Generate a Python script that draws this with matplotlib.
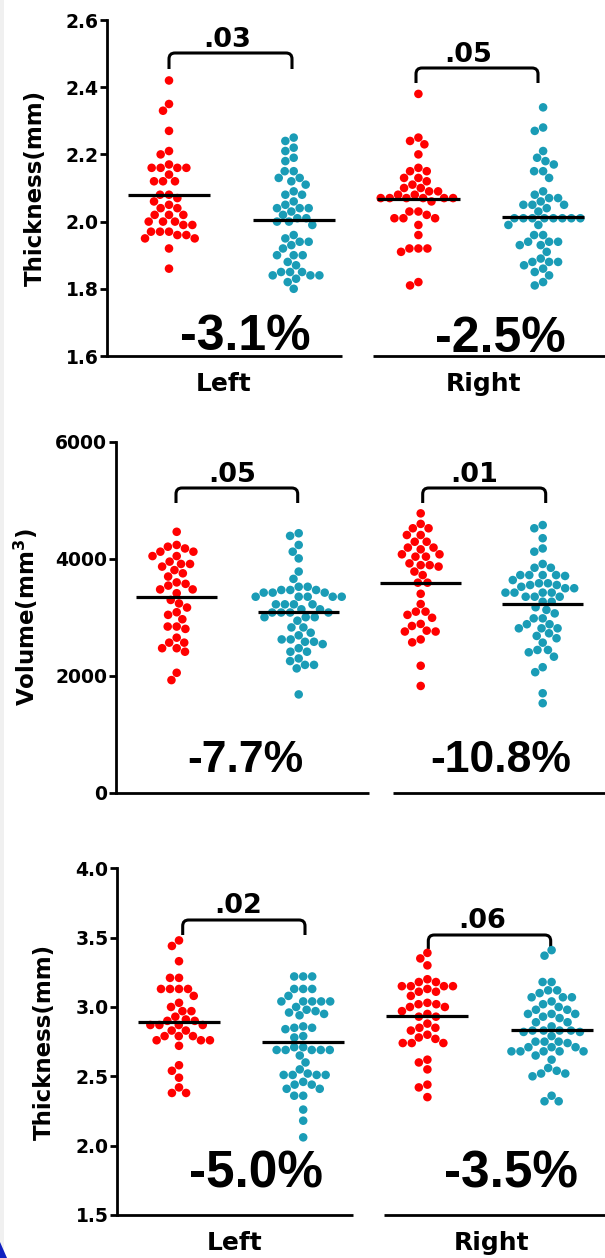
"""Dot plots of left / right thickness and volume with group means"""

import matplotlib
matplotlib.use("Agg")
import matplotlib.pyplot as plt
from matplotlib.path import Path
from matplotlib.patches import PathPatch, Polygon, Rectangle
import numpy as np

FIG_W, FIG_H, DPI = 605, 1258, 100
RED = "#FF0000"
TEAL = "#1A9CB6"
BIG_FONT = ["Liberation Sans", "DejaVu Sans"]

# ---- panel 1 : thickness (mm) ----
p1_red_left = [2.42, 2.35, 2.33, 2.27, 2.21, 2.20, 2.17, 2.16, 2.16, 2.16, 2.16, 2.14,
               2.12, 2.12, 2.12, 2.08, 2.08, 2.07, 2.06, 2.05, 2.04, 2.04, 2.02, 2.02,
               2.02, 2.00, 2.00, 2.00, 1.99, 1.99, 1.97, 1.97, 1.97, 1.96, 1.96, 1.95,
               1.95, 1.92, 1.86]
p1_teal_left = [2.25, 2.24, 2.22, 2.21, 2.19, 2.18, 2.15, 2.15, 2.13, 2.13, 2.12, 2.11,
                2.09, 2.08, 2.08, 2.06, 2.05, 2.04, 2.04, 2.04, 2.03, 2.02, 2.01, 2.01,
                2.00, 2.00, 1.99, 1.96, 1.95, 1.94, 1.94, 1.93, 1.92, 1.90, 1.90, 1.90,
                1.88, 1.87, 1.85, 1.85, 1.85, 1.84, 1.84, 1.84, 1.83, 1.82, 1.80]
p1_red_right = [2.38, 2.25, 2.24, 2.23, 2.20, 2.16, 2.15, 2.15, 2.13, 2.13, 2.12, 2.11,
                2.10, 2.10, 2.09, 2.09, 2.08, 2.08, 2.07, 2.07, 2.07, 2.07, 2.07, 2.07,
                2.06, 2.03, 2.03, 2.02, 2.01, 2.01, 2.01, 1.99, 1.96, 1.92, 1.92, 1.92,
                1.91, 1.82, 1.81]
p1_teal_right = [2.34, 2.28, 2.27, 2.21, 2.19, 2.18, 2.17, 2.15, 2.15, 2.13, 2.09, 2.08,
                 2.07, 2.07, 2.06, 2.05, 2.05, 2.05, 2.04, 2.03, 2.01, 2.01, 2.01, 2.01,
                 2.01, 2.01, 2.01, 2.01, 1.99, 1.99, 1.96, 1.96, 1.94, 1.94, 1.94, 1.93,
                 1.93, 1.91, 1.89, 1.88, 1.88, 1.88, 1.87, 1.86, 1.85, 1.84, 1.82, 1.81]
p1_means = [2.078, 2.005, 2.067, 2.015]
p1_pvalues = [".03", ".05"]
p1_changes = ["-3.1%", "-2.5%"]

# ---- panel 2 : volume (mm3) ----
p2_red_left = [4460, 4235, 4205, 4175, 4120, 4120, 4045, 4045, 3950, 3910, 3910, 3865,
               3805, 3750, 3695, 3595, 3570, 3540, 3475, 3475, 3410, 3295, 3235, 3165,
               3085, 3040, 2965, 2840, 2840, 2800, 2650, 2565, 2565, 2470, 2470, 2410,
               2050, 1925]
p2_teal_left = [4435, 4390, 4235, 4120, 4005, 3780, 3655, 3520, 3520, 3465, 3465, 3465,
                3420, 3420, 3420, 3350, 3350, 3350, 3350, 3350, 3220, 3220, 3220, 3220,
                3135, 3135, 3080, 3080, 3080, 3080, 3000, 3000, 3000, 2940, 2825, 2825,
                2735, 2690, 2620, 2620, 2580, 2580, 2540, 2470, 2410, 2410, 2295, 2250,
                2185, 2185, 2125, 1680]
p2_red_right = [4775, 4595, 4520, 4520, 4405, 4405, 4290, 4290, 4190, 4190, 4160, 4075,
                4075, 4035, 4035, 3920, 3890, 3890, 3865, 3780, 3720, 3590, 3590, 3400,
                3225, 3095, 3095, 3040, 2990, 2885, 2850, 2770, 2755, 2755, 2620, 2570,
                2170, 1825]
p2_teal_right = [4575, 4520, 4350, 4175, 4120, 3910, 3845, 3845, 3720, 3720, 3720, 3720,
                 3705, 3635, 3580, 3580, 3550, 3550, 3520, 3495, 3495, 3420, 3420, 3420,
                 3420, 3350, 3350, 3350, 3265, 3265, 3170, 3125, 3065, 2980, 2980, 2880,
                 2880, 2810, 2810, 2810, 2725, 2680, 2640, 2565, 2440, 2440, 2400, 2325,
                 2145, 2060, 1700, 1530]
p2_means = [3345, 3095, 3590, 3220]
p2_pvalues = [".05", ".01"]
p2_changes = ["-7.7%", "-10.8%"]

# ---- panel 3 : thickness (mm) ----
p3_red_left = [3.48, 3.44, 3.33, 3.21, 3.21, 3.13, 3.13, 3.13, 3.13, 3.08, 3.03, 3.00,
               2.97, 2.97, 2.93, 2.91, 2.90, 2.90, 2.87, 2.87, 2.87, 2.87, 2.83, 2.83,
               2.79, 2.79, 2.79, 2.76, 2.76, 2.76, 2.72, 2.58, 2.54, 2.49, 2.42, 2.38,
               2.38]
p3_teal_left = [3.22, 3.22, 3.22, 3.13, 3.13, 3.13, 3.08, 3.04, 3.04, 3.04, 3.04, 3.04,
                3.00, 2.98, 2.97, 2.96, 2.95, 2.94, 2.86, 2.85, 2.85, 2.84, 2.79, 2.78,
                2.71, 2.71, 2.69, 2.69, 2.69, 2.69, 2.69, 2.65, 2.60, 2.55, 2.52, 2.51,
                2.51, 2.51, 2.51, 2.46, 2.44, 2.44, 2.41, 2.41, 2.36, 2.36, 2.26, 2.18,
                2.06]
p3_red_right = [3.39, 3.35, 3.30, 3.20, 3.18, 3.18, 3.15, 3.15, 3.15, 3.15, 3.13, 3.11,
                3.11, 3.08, 3.03, 3.02, 3.02, 3.00, 3.00, 2.97, 2.95, 2.93, 2.93, 2.88,
                2.85, 2.85, 2.83, 2.80, 2.78, 2.77, 2.74, 2.74, 2.74, 2.62, 2.60, 2.55,
                2.44, 2.42, 2.35]
p3_teal_right = [3.41, 3.37, 3.18, 3.18, 3.12, 3.12, 3.10, 3.07, 3.07, 3.07, 3.04, 3.02,
                 3.00, 2.98, 2.98, 2.95, 2.95, 2.95, 2.93, 2.92, 2.89, 2.89, 2.86, 2.83,
                 2.83, 2.83, 2.83, 2.82, 2.82, 2.79, 2.75, 2.75, 2.75, 2.74, 2.71, 2.71,
                 2.71, 2.68, 2.68, 2.68, 2.68, 2.68, 2.65, 2.62, 2.56, 2.54, 2.52, 2.52,
                 2.50, 2.36, 2.32, 2.32]
p3_means = [2.889, 2.750, 2.935, 2.832]
p3_pvalues = [".02", ".06"]
p3_changes = ["-5.0%", "-3.5%"]

side_labels = ["Left", "Right"]

# layout of each panel, in pixels of the final picture
PANELS = [
    dict(groups=[p1_red_left, p1_teal_left, p1_red_right, p1_teal_right],
         means=p1_means, pvalues=p1_pvalues, changes=p1_changes,
         left=107, top=20, bottom=356, c0=169, step=124.7,
         ylim=(1.6, 2.6), yticks=[1.6, 1.8, 2.0, 2.2, 2.4, 2.6], fmt="{:.1f}",
         ylabel="Thickness(mm)", ylabel_x=35,
         segments=[(107, 342), (373, 605)],
         brackets=[(169, 292, 53, 69), (416, 538, 68, 83)],
         ptext=[(227, 47), (468, 62)],
         ctext=[(245, 350), (500, 352)], csize=36,
         xlabels=[224, 484]),
    dict(groups=[p2_red_left, p2_teal_left, p2_red_right, p2_teal_right],
         means=p2_means, pvalues=p2_pvalues, changes=p2_changes,
         left=115.7, top=441.7, bottom=792.7, c0=176.7, step=122.0,
         ylim=(0, 6000), yticks=[0, 2000, 4000, 6000], fmt="{:.0f}",
         ylabel=r"Volume(mm$^{\mathbf{3}}$)", ylabel_x=26,
         segments=[(115.7, 369), (393, 605)],
         brackets=[(176, 297.7, 488, 503), (422.7, 545.7, 488, 503)],
         ptext=[(232, 481.7), (474, 481.7)],
         ctext=[(245, 771.7), (501, 771.7)], csize=32,
         xlabels=None),
    dict(groups=[p3_red_left, p3_teal_left, p3_red_right, p3_teal_right],
         means=p3_means, pvalues=p3_pvalues, changes=p3_changes,
         left=117, top=868.3, bottom=1215, c0=179, step=124.2,
         ylim=(1.5, 4.0), yticks=[1.5, 2.0, 2.5, 3.0, 3.5, 4.0], fmt="{:.1f}",
         ylabel="Thickness(mm)", ylabel_x=44,
         segments=[(117, 353), (384, 605)],
         brackets=[(182.7, 305, 920, 935), (428.3, 550.7, 935, 949)],
         ptext=[(238, 913), (482, 928)],
         ctext=[(256, 1188), (511, 1188)], csize=37,
         xlabels=[235, 492]),
]


def swarm_offsets(values, px_x, px_y, diam=9.0):
    """
    Beeswarm layout: horizontal offsets (data units) so that dots do not overlap

    @param values: the y values of one group
    @param px_x: pixels per x data unit
    @param px_y: pixels per y data unit
    @param diam: minimum distance between dot centres, pixels
    """
    values = np.asarray(values, dtype=float)
    placed = []
    offsets = np.zeros(len(values))
    for i in np.argsort(-values, kind="stable"):
        y = values[i] * px_y
        cands = [0.0]
        for xj, yj in placed:
            dy = abs(y - yj)
            if dy < diam:
                dx = np.sqrt(diam ** 2 - dy ** 2)
                cands += [xj - dx, xj + dx]
        cands.sort(key=lambda c: (round(abs(c), 3), c))
        chosen = 0.0
        for c in cands:
            if all((c - xj) ** 2 + (y - yj) ** 2 >= diam ** 2 - 1e-6
                   for xj, yj in placed):
                chosen = c
                break
        placed.append((chosen, y))
        offsets[i] = chosen / px_x
    return offsets


def draw_panel(fig, cfg):
    """
    Draw one panel of the figure from its config dict
    """
    width_px = FIG_W - cfg["left"]
    height_px = cfg["bottom"] - cfg["top"]
    ax = fig.add_axes([cfg["left"] / FIG_W, (FIG_H - cfg["bottom"]) / FIG_H,
                       width_px / FIG_W, height_px / FIG_H])
    c0, step = cfg["c0"], cfg["step"]
    y0, y1 = cfg["ylim"]
    px_y = height_px / (y1 - y0)

    def xd(px):
        return (px - c0) / step

    def yd(py):
        return y1 - (py - cfg["top"]) / px_y

    ax.set_xlim(xd(cfg["left"]), xd(FIG_W))
    ax.set_ylim(y0, y1)

    # dots and mean lines
    for pos, (vals, mean) in enumerate(zip(cfg["groups"], cfg["means"])):
        color = RED if pos % 2 == 0 else TEAL
        offs = swarm_offsets(vals, step, px_y)
        ax.scatter(pos + offs, vals, s=38, color=color, edgecolors="none",
                   zorder=3, clip_on=False)
        ax.plot([pos - 0.33, pos + 0.33], [mean, mean], color="black",
                lw=2.3, solid_capstyle="butt", zorder=4)

    # axes: left spine and a broken x axis
    for side in ("top", "right", "bottom"):
        ax.spines[side].set_visible(False)
    ax.spines["left"].set_linewidth(2.0)
    ax.set_xticks([])
    ax.set_yticks(cfg["yticks"])
    ax.set_yticklabels([cfg["fmt"].format(t) for t in cfg["yticks"]])
    ax.tick_params(axis="y", length=5, width=2, pad=1, labelsize=13.5)
    for lab in ax.get_yticklabels():
        lab.set_fontweight("bold")
    for xa, xb in cfg["segments"]:
        ax.plot([xd(xa), xd(xb)], [0, 0], color="black", lw=2.0,
                transform=ax.get_xaxis_transform(), clip_on=False,
                solid_capstyle="butt")

    ax.set_ylabel(cfg["ylabel"], fontsize=16.5, fontweight="bold", va="center")
    ax.yaxis.set_label_coords((cfg["ylabel_x"] - cfg["left"]) / width_px, 0.5)

    # brackets with p values
    r = 6.0
    rx, ry = r / step, r / px_y
    for (xa, xb, yt, yb), ptxt, (tx, ty) in zip(cfg["brackets"], cfg["pvalues"],
                                                cfg["ptext"]):
        x1, x2, top, bot = xd(xa), xd(xb), yd(yt), yd(yb)
        verts = [(x1, bot), (x1, top - ry), (x1, top), (x1 + rx, top),
                 (x2 - rx, top), (x2, top), (x2, top - ry), (x2, bot)]
        codes = [Path.MOVETO, Path.LINETO, Path.CURVE3, Path.CURVE3,
                 Path.LINETO, Path.CURVE3, Path.CURVE3, Path.LINETO]
        ax.add_patch(PathPatch(Path(verts, codes), facecolor="none",
                               edgecolor="black", lw=2.2, clip_on=False))
        ax.text(xd(tx), yd(ty), ptxt, ha="center", va="baseline",
                fontsize=19.5, fontweight="bold")

    # percent change
    for (tx, ty), txt in zip(cfg["ctext"], cfg["changes"]):
        ax.text(xd(tx), yd(ty), txt, ha="center", va="baseline",
                fontsize=cfg["csize"], fontweight="bold", family=BIG_FONT)

    if cfg["xlabels"]:
        for tx, txt in zip(cfg["xlabels"], side_labels):
            ax.text(xd(tx), yd(cfg["bottom"] + 35), txt, ha="center",
                    va="baseline", fontsize=18, fontweight="bold")
    return ax


fig = plt.figure(figsize=(FIG_W / DPI, FIG_H / DPI), dpi=DPI)
# slide edge: faint grey strip on the left and a blue corner at the bottom
fig.patches.append(Rectangle((0, 0), 4 / FIG_W, 1, transform=fig.transFigure,
                             facecolor="#F0F0F0", edgecolor="none"))
fig.patches.append(Polygon([(0, 0), (7 / FIG_W, 0), (0, 16 / FIG_H)],
                           transform=fig.transFigure, facecolor="#1020C0",
                           edgecolor="none"))
for panel in PANELS:
    draw_panel(fig, panel)
fig.savefig("out.png", dpi=DPI)
